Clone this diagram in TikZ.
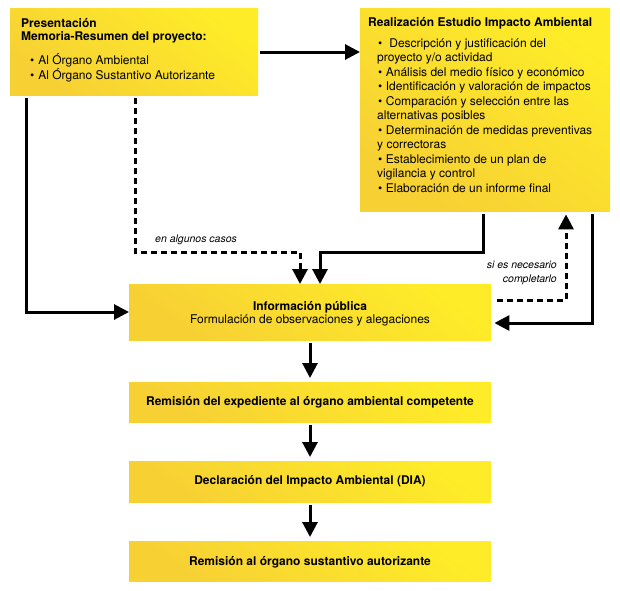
\documentclass[tikz,border=0pt]{standalone}
\usepackage{fontspec}
\setmainfont{TeX Gyre Heros}
\usetikzlibrary{arrows.meta,calc}
\definecolor{ytop}{RGB}{254,236,40}
\definecolor{ybot}{RGB}{247,208,52}
\begin{document}
\begin{tikzpicture}[x=1pt,y=-1pt,
  box/.style={draw=none, inner sep=0pt, anchor=north west, top color=ytop, bottom color=ybot, shading angle=-35},
  txt/.style={inner sep=0pt, font=\fontsize{12}{14}\selectfont},
  lbl/.style={inner sep=0pt, font=\fontsize{10.5}{13}\selectfont\itshape},
  arr/.style={line width=3pt, -{Triangle[length=15pt,width=15pt]}},
  dsh/.style={arr, dash pattern=on 6pt off 4pt}]
\useasboundingbox (0,0) rectangle (620,590);
% boxes
\node[box, minimum width=248pt, minimum height=87pt] (b1) at (10,8) {};
\node[box, minimum width=250pt, minimum height=203pt] (b2) at (360,8) {};
\node[box, minimum width=362pt, minimum height=56pt] (b3) at (129,284) {};
\node[box, minimum width=362pt, minimum height=40pt] (b4) at (129,382) {};
\node[box, minimum width=362pt, minimum height=41pt] (b5) at (129,461) {};
\node[box, minimum width=362pt, minimum height=40pt] (b6) at (129,541) {};
% texts
\node[txt, anchor=base west] (t1) at (21,27) {\vtop{\baselineskip=13pt
  \hbox{\bfseries Presentación}
  \hbox{\bfseries Memoria-Resumen del proyecto:}
  \vskip 10pt
  \hbox{\hspace*{9pt}\textbullet\hspace*{4pt}Al Órgano Ambiental}
  \hbox{\hspace*{9pt}\textbullet\hspace*{4pt}Al Órgano Sustantivo Autorizante}}};
\node[txt, anchor=base west] (t2) at (368,26) {\vtop{\baselineskip=14.5pt
  \hbox{\bfseries Realización Estudio Impacto Ambiental}
  \vskip 6.5pt
  \hbox{\hspace*{10pt}\textbullet\hspace*{7pt}Descripción y justificación del}
  \hbox{\hspace*{9pt}proyecto y/o actividad}
  \hbox{\hspace*{10pt}\textbullet\hspace*{3.5pt}Análisis del medio físico y económico}
  \hbox{\hspace*{10pt}\textbullet\hspace*{3.5pt}Identificación y valoración de impactos}
  \hbox{\hspace*{10pt}\textbullet\hspace*{3.5pt}Comparación y selección entre las}
  \hbox{\hspace*{9pt}alternativas posibles}
  \hbox{\hspace*{10pt}\textbullet\hspace*{3.5pt}Determinación de medidas preventivas}
  \hbox{\hspace*{9pt}y correctoras}
  \hbox{\hspace*{10pt}\textbullet\hspace*{3.5pt}Establecimiento de un plan de}
  \hbox{\hspace*{9pt}vigilancia y control}
  \hbox{\hspace*{10pt}\textbullet\hspace*{3.5pt}Elaboración de un informe final}}};
\node[txt, anchor=base, font=\fontsize{12}{14}\selectfont\bfseries] (t3a) at (310,310) {Información pública};
\node[txt, anchor=base] (t3b) at (310,323) {Formulación de observaciones y alegaciones};
\node[txt, anchor=base, font=\fontsize{12}{14}\selectfont\bfseries] (t4) at (310,405) {Remisión del expediente al órgano ambiental competente};
\node[txt, anchor=base, font=\fontsize{12}{14}\selectfont\bfseries] (t5) at (310,484) {Declaración del Impacto Ambiental (DIA)};
\node[txt, anchor=base, font=\fontsize{12}{14}\selectfont\bfseries] (t6) at (310,565) {Remisión al órgano sustantivo autorizante};
\node[lbl, anchor=base west] (l1) at (155,242) {en algunos casos};
\node[lbl, anchor=base east, align=right] (l2) at (557,268) {si es necesario};
\node[lbl, anchor=base east] (l3) at (557,282) {completarlo};
% connectors
\draw[arr] ([xshift=2pt]b1.east |- 0,52) -- (b2.west |- 0,52);
\draw[arr] ([yshift=-3pt]b1.south -| 26,0) -- (26,312) -- (b3.west |- 0,312);
\draw[dsh] ([yshift=-3pt]b1.south -| 135,0) -- (135,252) -- (300,252) -- (b3.north -| 300,0);
\draw[arr] ([yshift=-3pt]b2.south -| 483,0) -- (483,252) -- (320,252) -- (b3.north -| 320,0);
\draw[dsh] ([xshift=6pt]b3.east |- 0,300) -- (566,300) -- ([yshift=-3pt]b2.south -| 566,0);
\draw[arr] ([yshift=-3pt]b2.south -| 592,0) -- (592,323) -- ([xshift=3pt]b3.east |- 0,323);
\draw[arr] ([yshift=-3pt]b3.south -| 310,0) -- ([yshift=4pt]b4.north -| 310,0);
\draw[arr] ([yshift=-3pt]b4.south -| 310,0) -- ([yshift=4pt]b5.north -| 310,0);
\draw[arr] ([yshift=-3pt]b5.south -| 310,0) -- ([yshift=4pt]b6.north -| 310,0);
\end{tikzpicture}
\end{document}
